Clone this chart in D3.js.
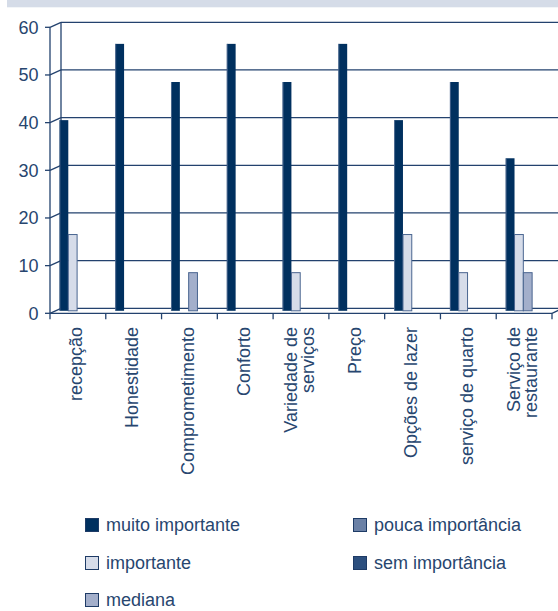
<!DOCTYPE html>
<html>
<head>
<meta charset="utf-8">
<script src="https://cdn.jsdelivr.net/npm/d3@7"></script>
<style>
  body { margin: 0; background: #fff; }
  text { font-family: "Liberation Sans", Arial, sans-serif; fill: #27466f; }
</style>
</head>
<body>
<div id="chart"></div>
<script>
// categories, series and values
var categories = ["recepção", "Honestidade", "Comprometimento", "Conforto",
    "Variedade de serviços", "Preço", "Opções de lazer", "serviço de quarto",
    "Serviço de restaurante"];
var series = ["muito importante", "importante", "mediana", "pouca importância", "sem importância"];
var muitoImportante = [40, 56, 48, 56, 48, 56, 40, 48, 32];
var importante      = [16, 0, 0, 0, 8, 0, 16, 8, 16];
var mediana         = [0, 0, 8, 0, 0, 0, 0, 0, 8];
var poucaImportancia = [0, 0, 0, 0, 0, 0, 0, 0, 0];
var semImportancia   = [0, 0, 0, 0, 0, 0, 0, 0, 0];
var yTicks = [0, 10, 20, 30, 40, 50, 60];
var labelLines = {
    "Variedade de serviços": ["Variedade de", "serviços"],
    "Serviço de restaurante": ["Serviço de", "restaurante"]
};

var values = [muitoImportante, importante, mediana, poucaImportancia, semImportancia];
var colors = ["#00305f", "#d6dce9", "#a3afcb", "#6b81a6", "#2c4f7e"];
var strokes = ["#00305f", "#4a6590", "#4a6590", "#3d5882", "#1c3a66"];

var W = 558, H = 611;
var depth = { dx: 11, dy: -5 };     // back wall offset
var mid = { dx: 5.5, dy: -2.5 };    // bars stand half way in
var fontSize = "18px";

var svg = d3.select("#chart").append("svg")
    .attr("width", W)
    .attr("height", H);

// band on top
svg.append("rect")
    .attr("x", 7).attr("y", 0)
    .attr("width", W - 7).attr("height", 7.3)
    .attr("fill", "#d5dce8");

var x = d3.scaleBand()
    .domain(categories)
    .range([50, 552]);

var xs = d3.scaleBand()
    .domain(series)
    .range([4, 48]);

var y = d3.scaleLinear()
    .domain([0, 60])
    .range([313.3, 27.3]);

var lineColor = "#23426e";

// back wall grid
svg.append("g").selectAll("line")
    .data(yTicks)
    .enter().append("line")
    .attr("x1", 50 + depth.dx)
    .attr("x2", 552 + depth.dx)
    .attr("y1", function (d) { return y(d) + depth.dy; })
    .attr("y2", function (d) { return y(d) + depth.dy; })
    .attr("stroke", lineColor)
    .attr("stroke-width", 1.3);

// back wall left edge
svg.append("line")
    .attr("x1", 50 + depth.dx).attr("x2", 50 + depth.dx)
    .attr("y1", y(60) + depth.dy).attr("y2", y(0) + depth.dy)
    .attr("stroke", lineColor).attr("stroke-width", 1.3);

// bars
var barData = [];
categories.forEach(function (c, i) {
    series.forEach(function (s, j) {
        if (values[j][i] > 0) barData.push({ cat: c, s: s, j: j, v: values[j][i] });
    });
});

var bars = svg.append("g").selectAll("g")
    .data(barData)
    .enter().append("g");

bars.append("rect")
    .attr("x", function (d) { return x(d.cat) + xs(d.s) + mid.dx; })
    .attr("y", function (d) { return y(d.v) + mid.dy; })
    .attr("width", xs.bandwidth())
    .attr("height", function (d) { return y(0) - y(d.v); })
    .attr("fill", function (d) { return colors[d.j]; })
    .attr("stroke", function (d) { return strokes[d.j]; })
    .attr("stroke-width", function (d) { return d.j === 0 ? 0 : 1; });

// thin light edge on the dark columns
bars.filter(function (d) { return d.j === 0; })
    .append("line")
    .attr("x1", function (d) { return x(d.cat) + xs(d.s) + mid.dx + 0.4; })
    .attr("x2", function (d) { return x(d.cat) + xs(d.s) + mid.dx + 0.4; })
    .attr("y1", function (d) { return y(d.v) + mid.dy; })
    .attr("y2", y(0) + mid.dy)
    .attr("stroke", "#5c7499")
    .attr("stroke-width", 0.8);

// front y axis
var axis = svg.append("g");
axis.append("line")
    .attr("x1", 50).attr("x2", 50)
    .attr("y1", y(60)).attr("y2", y(0))
    .attr("stroke", lineColor).attr("stroke-width", 1.3);

var ticks = axis.selectAll(".tick")
    .data(yTicks)
    .enter().append("g");
ticks.append("line")
    .attr("x1", 45).attr("x2", 50)
    .attr("y1", function (d) { return y(d); })
    .attr("y2", function (d) { return y(d); })
    .attr("stroke", lineColor).attr("stroke-width", 1.3);
ticks.append("line")
    .attr("x1", 50).attr("x2", 50 + depth.dx)
    .attr("y1", function (d) { return y(d); })
    .attr("y2", function (d) { return y(d) + depth.dy; })
    .attr("stroke", lineColor).attr("stroke-width", 1.3);
ticks.append("text")
    .attr("x", 38.5)
    .attr("y", function (d) { return y(d); })
    .attr("dy", "0.35em")
    .attr("text-anchor", "end")
    .style("font-size", fontSize)
    .text(function (d) { return d; });

// floor front edge + right diagonal
svg.append("line")
    .attr("x1", 50).attr("x2", 552)
    .attr("y1", y(0)).attr("y2", y(0))
    .attr("stroke", lineColor).attr("stroke-width", 1.3);
svg.append("line")
    .attr("x1", 552).attr("x2", 552 + depth.dx)
    .attr("y1", y(0)).attr("y2", y(0) + depth.dy)
    .attr("stroke", lineColor).attr("stroke-width", 1.3);

// category ticks
var edges = categories.map(function (c) { return x(c); }).concat([x.range()[1]]);
svg.append("g").selectAll("line")
    .data(edges)
    .enter().append("line")
    .attr("x1", function (d) { return d; })
    .attr("x2", function (d) { return d; })
    .attr("y1", y(0)).attr("y2", y(0) + 6)
    .attr("stroke", lineColor).attr("stroke-width", 1.3);

// category labels, rotated
var labels = svg.append("g").selectAll("text")
    .data(categories)
    .enter().append("text")
    .attr("transform", function (d) {
        return "translate(" + (x(d) + x.bandwidth() / 2 - 2) + ",327) rotate(-90)";
    })
    .attr("text-anchor", "end")
    .style("font-size", fontSize);

labels.each(function (d) {
    var lines = labelLines[d] || [d];
    var t = d3.select(this);
    lines.forEach(function (l, k) {
        t.append("tspan")
            .attr("x", 0)
            .attr("y", (k - (lines.length - 1) / 2) * 17)
            .attr("dy", "0.35em")
            .text(l);
    });
});

// legend
var legendPos = [[85, 525], [85, 563], [85, 600], [353, 525], [353, 563]];
var legend = svg.append("g").selectAll("g")
    .data(series)
    .enter().append("g")
    .attr("transform", function (d, i) {
        return "translate(" + legendPos[i][0] + "," + legendPos[i][1] + ")";
    });
legend.append("rect")
    .attr("x", 0.5).attr("y", -6.5)
    .attr("width", 13).attr("height", 13)
    .attr("fill", function (d, i) { return colors[i]; })
    .attr("stroke", "#1e3b66")
    .attr("stroke-width", 1);
legend.append("text")
    .attr("x", 21)
    .attr("y", 0)
    .attr("dy", "0.35em")
    .style("font-size", fontSize)
    .text(function (d) { return d; });
</script>
</body>
</html>
